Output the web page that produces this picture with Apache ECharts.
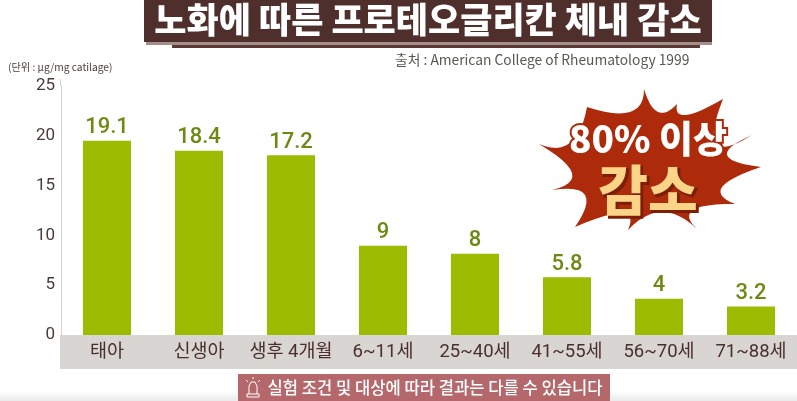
<!DOCTYPE html>
<html>
<head>
<meta charset="utf-8">
<title>노화에 따른 프로테오글리칸 체내 감소</title>
<script src="https://cdn.jsdelivr.net/npm/echarts@6/dist/echarts.min.js"></script>
<style>
    html, body { margin: 0; padding: 0; background: #fff; }
    #main { width: 797px; height: 401px; }
</style>
</head>
<body>
<div id="main"></div>
<script>
    var categories = ['태아', '신생아', '생후 4개월', '6~11세', '25~40세', '41~55세', '56~70세', '71~88세'];
    // bar heights as drawn in the picture (on the axis scale)
    var barHeights = [19.5, 18.5, 18.05, 8.95, 8.15, 5.8, 3.65, 2.85];
    // values printed above the bars
    var printedValues = ['19.1', '18.4', '17.2', '9', '8', '5.8', '4', '3.2'];
    var yTicks = [0, 5, 10, 15, 20, 25];

    var titleText = '노화에 따른 프로테오글리칸 체내 감소';
    var sourceText = '출처 : American College of Rheumatology 1999';
    var unitText = '(단위 : μg/mg catilage)';
    var noteText = '실험 조건 및 대상에 따라 결과는 다를 수 있습니다';

    var KR = '"Noto Sans CJK KR"';
    var LATIN = 'Roboto, ' + KR;

    // starburst outline: spikes and the dips between them
    var burstTips = [[644,89],[677,104],[723,99],[752,135],[761,167],[735,204],[697,229],[628,230],[575,227],[552,190],[539,144],[587,107]];
    var burstDips = [[658,112],[686,115],[716,144],[727,155],[722,187],[693,210],[662,212],[622,213],[585,195],[572,173],[570,143],[630,112]];

    function burstPoints() {
        var pts = [];
        for (var i = 0; i < burstTips.length; i++) {
            var a = burstTips[i], b = burstTips[(i + 1) % burstTips.length], v = burstDips[i];
            // control point so that the curve passes through the dip
            var cx = 2 * v[0] - (a[0] + b[0]) / 2, cy = 2 * v[1] - (a[1] + b[1]) / 2;
            for (var k = 0; k < 12; k++) {
                var t = k / 12, u = 1 - t;
                pts.push([u * u * a[0] + 2 * u * t * cx + t * t * b[0], u * u * a[1] + 2 * u * t * cy + t * t * b[1]]);
            }
        }
        return pts;
    }

    var myChart = echarts.init(document.getElementById('main'), null, { renderer: 'canvas' });

    var iconStyle = { fill: 'none', stroke: '#ffffff', lineWidth: 1 };

    var option = {
        backgroundColor: '#ffffff',
        animation: false,
        grid: { left: 61, right: 0, top: 86, bottom: 66 },
        xAxis: {
            type: 'category',
            data: categories,
            axisLine: { show: false },
            axisTick: { show: false },
            axisLabel: {
                interval: 0,
                margin: 8,
                color: '#4a2f2c',
                fontSize: 18.5,
                fontFamily: LATIN
            }
        },
        yAxis: {
            type: 'value',
            min: 0,
            max: 25,
            interval: 5,
            splitLine: { show: false },
            axisTick: { show: false },
            axisLine: { show: true, lineStyle: { color: '#d4d2d0', width: 1 } },
            axisLabel: {
                margin: 6,
                color: '#4a3a38',
                fontSize: 17,
                fontFamily: 'Roboto',
                formatter: function (v) { return yTicks.indexOf(v) >= 0 ? String(v) : ''; }
            }
        },
        series: [{
            type: 'bar',
            data: barHeights,
            barWidth: 48,
            itemStyle: { color: '#9dbb00' },
            label: {
                show: true,
                position: 'top',
                distance: 2,
                color: '#6c8a12',
                fontSize: 22,
                fontWeight: 500,
                fontFamily: 'Roboto',
                formatter: function (p) { return printedValues[p.dataIndex]; }
            }
        }],
        graphic: [
            // band behind the category labels
            { type: 'rect', z: 0, shape: { x: 60, y: 335, width: 737, height: 34 }, style: { fill: '#d8d5d3' } },
            { type: 'line', z: 0, shape: { x1: 60.5, y1: 79, x2: 60.5, y2: 86 }, style: { stroke: '#d4d2d0', lineWidth: 1 } },

            // fade at the bottom of the frame
            { type: 'rect', z: 0, shape: { x: 0, y: 391, width: 797, height: 10 }, style: {
                fill: new echarts.graphic.LinearGradient(0, 0, 0, 1, [
                    { offset: 0, color: '#ffffff' }, { offset: 1, color: '#ebebeb' }
                ])
            } },

            // title banner
            { type: 'rect', z: 5, shape: { x: 172, y: 42, width: 528, height: 6 }, style: { fill: '#5b3a35' } },
            { type: 'rect', z: 6, shape: { x: 146, y: 42, width: 566, height: 3 }, style: { fill: '#a58f8b' } },
            { type: 'rect', z: 7, shape: { x: 144, y: 0, width: 568, height: 42 }, style: { fill: '#4f2f2b' } },
            { type: 'text', z: 8, style: {
                x: 428, y: 20, text: titleText, align: 'center', verticalAlign: 'middle',
                fill: '#ffffff', font: '900 35px ' + KR
            } },

            { type: 'text', z: 8, style: {
                x: 395, y: 60, text: sourceText, align: 'left', verticalAlign: 'middle',
                fill: '#5a5654', font: '400 13.8px ' + KR
            } },
            { type: 'text', z: 8, style: {
                x: 8, y: 67, text: unitText, align: 'left', verticalAlign: 'middle',
                fill: '#4a3f3c', font: '400 10.2px ' + KR
            } },

            // starburst callout, text drawn over an outlined copy
            { type: 'polygon', z: 8, shape: { points: burstPoints() }, style: { fill: '#ad2a0b' } },
            { type: 'text', z: 9, style: {
                x: 648, y: 139, text: '80% 이상', align: 'center', verticalAlign: 'middle',
                fill: '#ad2a0b', font: '900 37px ' + KR, stroke: '#ad2a0b', lineWidth: 4
            } },
            { type: 'text', z: 10, style: {
                x: 648, y: 139, text: '80% 이상', align: 'center', verticalAlign: 'middle',
                fill: '#ffffff', font: '900 37px ' + KR
            } },
            { type: 'text', z: 9, style: {
                x: 650, y: 192, text: '감소', align: 'center', verticalAlign: 'middle',
                fill: '#7d1f08', font: '900 54px ' + KR, stroke: '#7d1f08', lineWidth: 2
            } },
            { type: 'text', z: 10, style: {
                x: 648, y: 190, text: '감소', align: 'center', verticalAlign: 'middle',
                fill: '#fbd488', font: '900 54px ' + KR
            } },

            // note strip with the siren icon
            { type: 'rect', z: 8, shape: { x: 238, y: 374, width: 372, height: 27 }, style: { fill: '#b5686b' } },
            { type: 'polyline', z: 9, shape: { points: [[249,394],[249,386],[251,382],[255,382],[257,386],[257,394]] }, style: iconStyle },
            { type: 'rect', z: 9, shape: { x: 247, y: 394, width: 12, height: 3 }, style: iconStyle },
            { type: 'line', z: 9, shape: { x1: 253, y1: 377, x2: 253, y2: 379 }, style: iconStyle },
            { type: 'line', z: 9, shape: { x1: 246, y1: 380, x2: 248, y2: 382 }, style: iconStyle },
            { type: 'line', z: 9, shape: { x1: 260, y1: 380, x2: 258, y2: 382 }, style: iconStyle },
            { type: 'text', z: 9, style: {
                x: 435, y: 388, text: noteText, align: 'center', verticalAlign: 'middle',
                fill: '#ffffff', font: '500 16.6px ' + KR
            } }
        ]
    };

    myChart.setOption(option);
</script>
</body>
</html>
